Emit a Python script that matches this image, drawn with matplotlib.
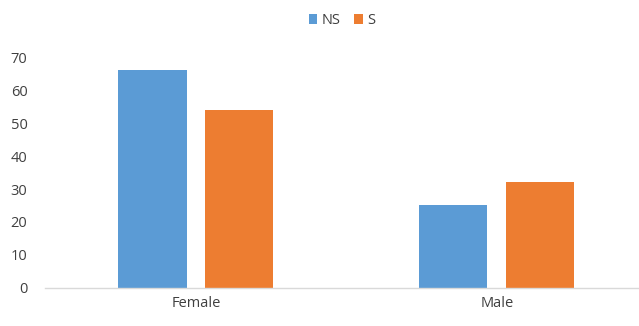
import numpy as np
import matplotlib
matplotlib.use("Agg")
import matplotlib.pyplot as plt

categories = ["Female", "Male"]
ns_values = [66, 25]
s_values = [54, 32]

plt.rcParams["font.family"] = ["Open Sans", "DejaVu Sans"]
text_col = "#404040"

fig = plt.figure(figsize=(6.39, 3.26), dpi=100)
ax = fig.add_axes([0.0712, 0.1166, 0.942, 0.7085])

x = np.arange(len(categories))
w = 0.226
off = 0.1445
ax.bar(x - off, ns_values, w, color="#5B9BD5", label="NS")
ax.bar(x + off, s_values, w, color="#ED7D31", label="S")

ax.set_xlim(-0.5, 1.5)
ax.set_ylim(0, 70)
ax.set_yticks(range(0, 71, 10))
ax.set_xticks(x)
ax.set_xticklabels(categories)

for s in ["top", "right", "left"]:
    ax.spines[s].set_visible(False)
ax.spines["bottom"].set_color("#D9D9D9")
ax.spines["bottom"].set_linewidth(1)
ax.tick_params(axis="both", length=0, labelsize=10.5, colors=text_col)
ax.tick_params(axis="y", pad=13)
ax.tick_params(axis="x", pad=6)

fig.legend(loc="upper center", bbox_to_anchor=(0.535, 1.0), ncol=2, frameon=False,
           fontsize=10.5, handlelength=0.6, handleheight=0.6, handletextpad=0.3,
           columnspacing=0.9, labelcolor=text_col)

fig.savefig("out.png", dpi=100)
